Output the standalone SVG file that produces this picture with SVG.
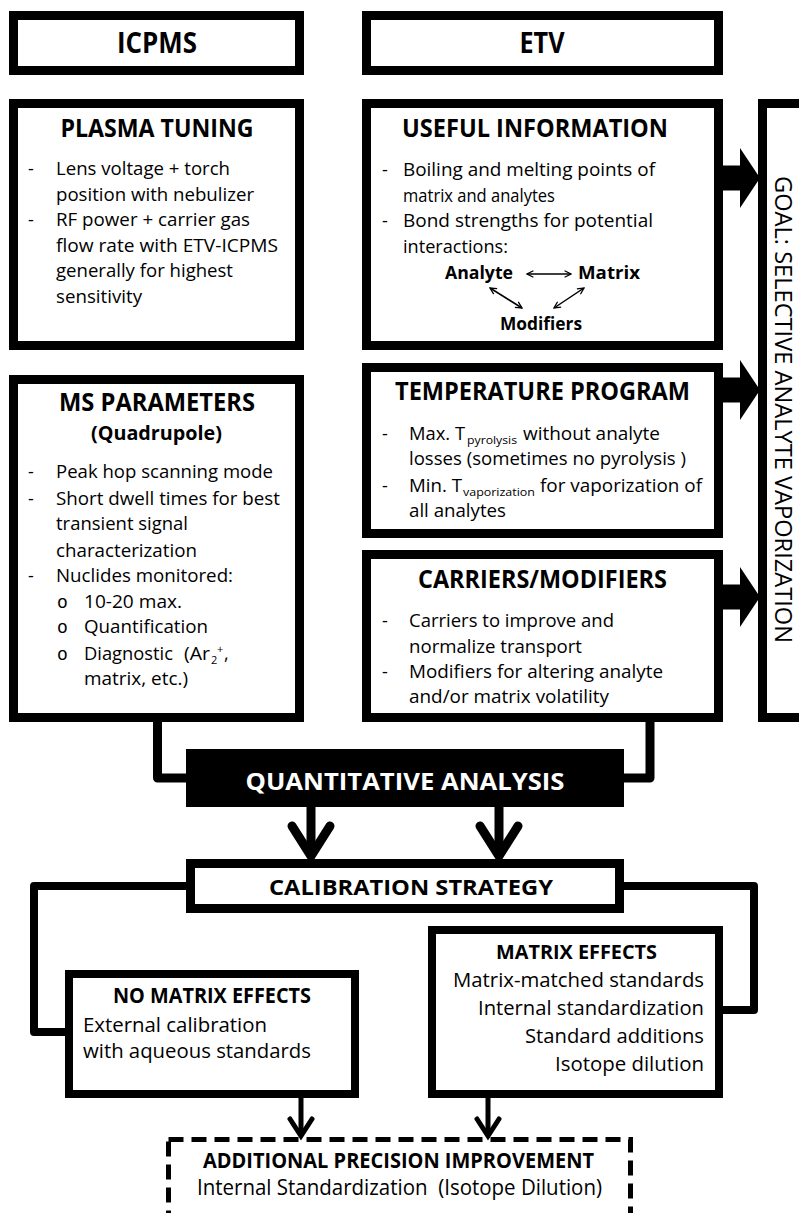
<svg xmlns="http://www.w3.org/2000/svg" width="799" height="1213" viewBox="0 0 799 1213">
<defs>
<style>
.box{fill:#fff;stroke:#000;stroke-width:9}
.box8{fill:#fff;stroke:#000;stroke-width:8}
.t{font-family:"Open Sans","Liberation Sans",sans-serif;fill:#000}
.b{font-weight:700}
.h1{font-size:28px}
.h2{font-size:25px}
.bd{font-size:18px}
.lb{font-size:20px}
.sub{font-size:11px}
.m{text-anchor:middle}
.e{text-anchor:end}
.bul{font-family:"Liberation Mono",monospace;font-size:18px}
.conn{fill:none;stroke:#000;stroke-width:9;stroke-linejoin:round}
.conn8{fill:none;stroke:#000;stroke-width:8;stroke-linejoin:round}
.chev{fill:none;stroke:#000;stroke-width:9;stroke-linejoin:miter;stroke-linecap:round}
.chev5{fill:none;stroke:#000;stroke-width:5;stroke-linejoin:miter;stroke-linecap:round}
.thin{fill:none;stroke:#000;stroke-width:1.5;marker-start:url(#v);marker-end:url(#v)}
</style>
<marker id="v" viewBox="0 0 10 10" refX="9" refY="5" markerWidth="8" markerHeight="8" markerUnits="userSpaceOnUse" orient="auto-start-reverse">
<path d="M1,1 L9,5 L1,9" fill="none" stroke="#000" stroke-width="1.6"/>
</marker>
</defs>

<g id="connectors">
<polygon points="723,165.5 740,165.5 740,148 760,178 740,208 740,190.5 723,190.5" fill="#000"/>
<polygon points="723,377.5 740,377.5 740,360 760,390 740,420 740,402.5 723,402.5" fill="#000"/>
<polygon points="723,584.5 740,584.5 740,567 760,597 740,627 740,609.5 723,609.5" fill="#000"/>
<path class="conn" d="M157.5,722 V778 H190"/>
<path class="conn" d="M650,717 V778 H620"/>
<path class="conn" d="M311,807 V852"/>
<path class="chev" d="M292,826 L311,856 L330,826"/>
<path class="conn" d="M499,807 V852"/>
<path class="chev" d="M480,826 L499,856 L518,826"/>
<path class="conn8" d="M190,886 H34 V1032 H69"/>
<path class="conn8" d="M620,886 H754 V1010 H719"/>
<path fill="none" stroke="#000" stroke-width="5" d="M301,1098 V1134"/>
<path class="chev5" d="M290,1119 L301,1136 L312,1119"/>
<path fill="none" stroke="#000" stroke-width="5" d="M488,1098 V1134"/>
<path class="chev5" d="M477,1119 L488,1136 L499,1119"/>
</g>

<g id="icpms">
<rect class="box" x="13.5" y="15.5" width="286" height="55"/>
<text class="t b h1 m" x="157" y="53" textLength="80" lengthAdjust="spacingAndGlyphs">ICPMS</text>
</g>

<g id="etv">
<rect class="box" x="366.5" y="15.5" width="352" height="55"/>
<text class="t b h1 m" x="542" y="53" textLength="45" lengthAdjust="spacingAndGlyphs">ETV</text>
</g>

<g id="plasma-tuning">
<rect class="box" x="13.5" y="103.5" width="286" height="242"/>
<text class="t b h2 m" x="157" y="137" textLength="193" lengthAdjust="spacingAndGlyphs">PLASMA TUNING</text>
<text class="t bd" x="28" y="175">-</text>
<text class="t bd" x="56" y="175" textLength="174" lengthAdjust="spacingAndGlyphs">Lens voltage + torch</text>
<text class="t bd" x="56" y="201" textLength="198" lengthAdjust="spacingAndGlyphs">position with nebulizer</text>
<text class="t bd" x="28" y="226">-</text>
<text class="t bd" x="56" y="226" textLength="194" lengthAdjust="spacingAndGlyphs">RF power + carrier gas</text>
<text class="t bd" x="56" y="252" textLength="222" lengthAdjust="spacingAndGlyphs">flow rate with ETV-ICPMS</text>
<text class="t bd" x="56" y="277" textLength="177" lengthAdjust="spacingAndGlyphs">generally for highest</text>
<text class="t bd" x="56" y="303" textLength="86" lengthAdjust="spacingAndGlyphs">sensitivity</text>
</g>

<g id="useful-information">
<rect class="box" x="366.5" y="103.5" width="352" height="242"/>
<text class="t b h2 m" x="535" y="137" textLength="266" lengthAdjust="spacingAndGlyphs">USEFUL INFORMATION</text>
<text class="t bd" x="382" y="176">-</text>
<text class="t bd" x="403" y="176" textLength="252" lengthAdjust="spacingAndGlyphs">Boiling and melting points of</text>
<text class="t bd" x="403" y="202" textLength="152" lengthAdjust="spacingAndGlyphs">matrix and analytes</text>
<text class="t bd" x="382" y="227">-</text>
<text class="t bd" x="403" y="227" textLength="250" lengthAdjust="spacingAndGlyphs">Bond strengths for potential</text>
<text class="t bd" x="403" y="253" textLength="105" lengthAdjust="spacingAndGlyphs">interactions:</text>
<text class="t b bd" x="445" y="279" textLength="68" lengthAdjust="spacingAndGlyphs">Analyte</text>
<text class="t b bd" x="578" y="279" textLength="62" lengthAdjust="spacingAndGlyphs">Matrix</text>
<text class="t b bd" x="500" y="330" textLength="82" lengthAdjust="spacingAndGlyphs">Modifiers</text>
<path class="thin" d="M527,274 H571"/>
<path class="thin" d="M490,288 L522,308"/>
<path class="thin" d="M584,288 L554,308"/>
</g>

<g id="goal">
<rect class="box" x="762.5" y="103.5" width="80" height="614"/>
<text class="t" font-size="24" transform="translate(775,176) rotate(90)" textLength="467" lengthAdjust="spacingAndGlyphs">GOAL: SELECTIVE ANALYTE VAPORIZATION</text>
</g>

<g id="ms-parameters">
<rect class="box" x="13.5" y="379.5" width="286" height="338"/>
<text class="t b h2 m" x="157" y="411" textLength="196" lengthAdjust="spacingAndGlyphs">MS PARAMETERS</text>
<text class="t b m" font-size="20" x="156.5" y="440" textLength="131" lengthAdjust="spacingAndGlyphs">(Quadrupole)</text>
<text class="t bd" x="28" y="478">-</text>
<text class="t bd" x="56" y="478" textLength="217" lengthAdjust="spacingAndGlyphs">Peak hop scanning mode</text>
<text class="t bd" x="28" y="505">-</text>
<text class="t bd" x="56" y="505" textLength="224" lengthAdjust="spacingAndGlyphs">Short dwell times for best</text>
<text class="t bd" x="56" y="530" textLength="132" lengthAdjust="spacingAndGlyphs">transient signal</text>
<text class="t bd" x="56" y="557" textLength="141" lengthAdjust="spacingAndGlyphs">characterization</text>
<text class="t bd" x="28" y="582">-</text>
<text class="t bd" x="56" y="582" textLength="177" lengthAdjust="spacingAndGlyphs">Nuclides monitored:</text>
<text class="bul" x="57" y="608">o</text>
<text class="t bd" x="84" y="608" textLength="98" lengthAdjust="spacingAndGlyphs">10-20 max.</text>
<text class="bul" x="57" y="633">o</text>
<text class="t bd" x="84" y="633" textLength="124" lengthAdjust="spacingAndGlyphs">Quantification</text>
<text class="bul" x="57" y="660">o</text>
<text class="t bd" x="84" y="660" textLength="89" lengthAdjust="spacingAndGlyphs">Diagnostic</text>
<text class="t bd" x="184" y="660" textLength="26" lengthAdjust="spacingAndGlyphs">(Ar</text>
<text class="t sub" x="211" y="664">2</text>
<text class="t sub" x="217" y="653">+</text>
<text class="t bd" x="224" y="660">,</text>
<text class="t bd" x="84" y="685" textLength="104" lengthAdjust="spacingAndGlyphs">matrix, etc.)</text>
</g>

<g id="temperature-program">
<rect class="box" x="366.5" y="367.5" width="352" height="166"/>
<text class="t b h2 m" x="542.5" y="400" textLength="295" lengthAdjust="spacingAndGlyphs">TEMPERATURE PROGRAM</text>
<text class="t bd" x="382" y="440">-</text>
<text class="t bd" x="409" y="440" textLength="56" lengthAdjust="spacingAndGlyphs">Max. T</text>
<text class="t sub" x="467" y="444" textLength="50" lengthAdjust="spacingAndGlyphs">pyrolysis</text>
<text class="t bd" x="523" y="440" textLength="137" lengthAdjust="spacingAndGlyphs">without analyte</text>
<text class="t bd" x="409" y="465" textLength="277" lengthAdjust="spacingAndGlyphs">losses (sometimes no pyrolysis )</text>
<text class="t bd" x="382" y="492">-</text>
<text class="t bd" x="409" y="492" textLength="53" lengthAdjust="spacingAndGlyphs">Min. T</text>
<text class="t sub" x="463" y="496" textLength="72" lengthAdjust="spacingAndGlyphs">vaporization</text>
<text class="t bd" x="540" y="492" textLength="162" lengthAdjust="spacingAndGlyphs">for vaporization of</text>
<text class="t bd" x="409" y="517" textLength="97" lengthAdjust="spacingAndGlyphs">all analytes</text>
</g>

<g id="carriers-modifiers">
<rect class="box" x="366.5" y="554.5" width="352" height="163"/>
<text class="t b h2 m" x="542.5" y="588" textLength="249" lengthAdjust="spacingAndGlyphs">CARRIERS/MODIFIERS</text>
<text class="t bd" x="382" y="627">-</text>
<text class="t bd" x="409" y="627" textLength="205" lengthAdjust="spacingAndGlyphs">Carriers to improve and</text>
<text class="t bd" x="409" y="653" textLength="173" lengthAdjust="spacingAndGlyphs">normalize transport</text>
<text class="t bd" x="382" y="678">-</text>
<text class="t bd" x="409" y="678" textLength="254" lengthAdjust="spacingAndGlyphs">Modifiers for altering analyte</text>
<text class="t bd" x="409" y="703" textLength="200" lengthAdjust="spacingAndGlyphs">and/or matrix volatility</text>
</g>

<g id="quantitative-analysis">
<rect x="186" y="749" width="438" height="58" fill="#000"/>
<text class="t b m" font-size="24" x="405" y="790" style="fill:#fff" textLength="319" lengthAdjust="spacingAndGlyphs">QUANTITATIVE ANALYSIS</text>
</g>

<g id="calibration-strategy">
<rect class="box" x="190.5" y="863.5" width="429" height="45"/>
<text class="t b m" font-size="22" x="411" y="895" textLength="284" lengthAdjust="spacingAndGlyphs">CALIBRATION STRATEGY</text>
</g>

<g id="no-matrix-effects">
<rect class="box8" x="69" y="974" width="286" height="120"/>
<text class="t b m" font-size="21" x="212" y="1003" textLength="198" lengthAdjust="spacingAndGlyphs">NO MATRIX EFFECTS</text>
<text class="t lb" x="83" y="1032" textLength="184" lengthAdjust="spacingAndGlyphs">External calibration</text>
<text class="t lb" x="83" y="1058" textLength="228" lengthAdjust="spacingAndGlyphs">with aqueous standards</text>
</g>

<g id="matrix-effects">
<rect class="box8" x="432" y="930" width="287" height="164"/>
<text class="t b m" font-size="20" x="576.5" y="959" textLength="161" lengthAdjust="spacingAndGlyphs">MATRIX EFFECTS</text>
<text class="t lb e" x="704" y="987" textLength="251" lengthAdjust="spacingAndGlyphs">Matrix-matched standards</text>
<text class="t lb e" x="704" y="1015" textLength="226" lengthAdjust="spacingAndGlyphs">Internal standardization</text>
<text class="t lb e" x="704" y="1043" textLength="179" lengthAdjust="spacingAndGlyphs">Standard additions</text>
<text class="t lb e" x="704" y="1071" textLength="149" lengthAdjust="spacingAndGlyphs">Isotope dilution</text>
</g>

<g id="additional-precision">
<rect x="168.5" y="1139.5" width="462" height="110" fill="none" stroke="#000" stroke-width="5" stroke-dasharray="15 8"/>
<text class="t b m" font-size="21" x="398.5" y="1168" textLength="391" lengthAdjust="spacingAndGlyphs">ADDITIONAL PRECISION IMPROVEMENT</text>
<text class="t m" font-size="21" x="399.5" y="1195" textLength="405" lengthAdjust="spacingAndGlyphs">Internal Standardization&#160; (Isotope Dilution)</text>
</g>
</svg>
